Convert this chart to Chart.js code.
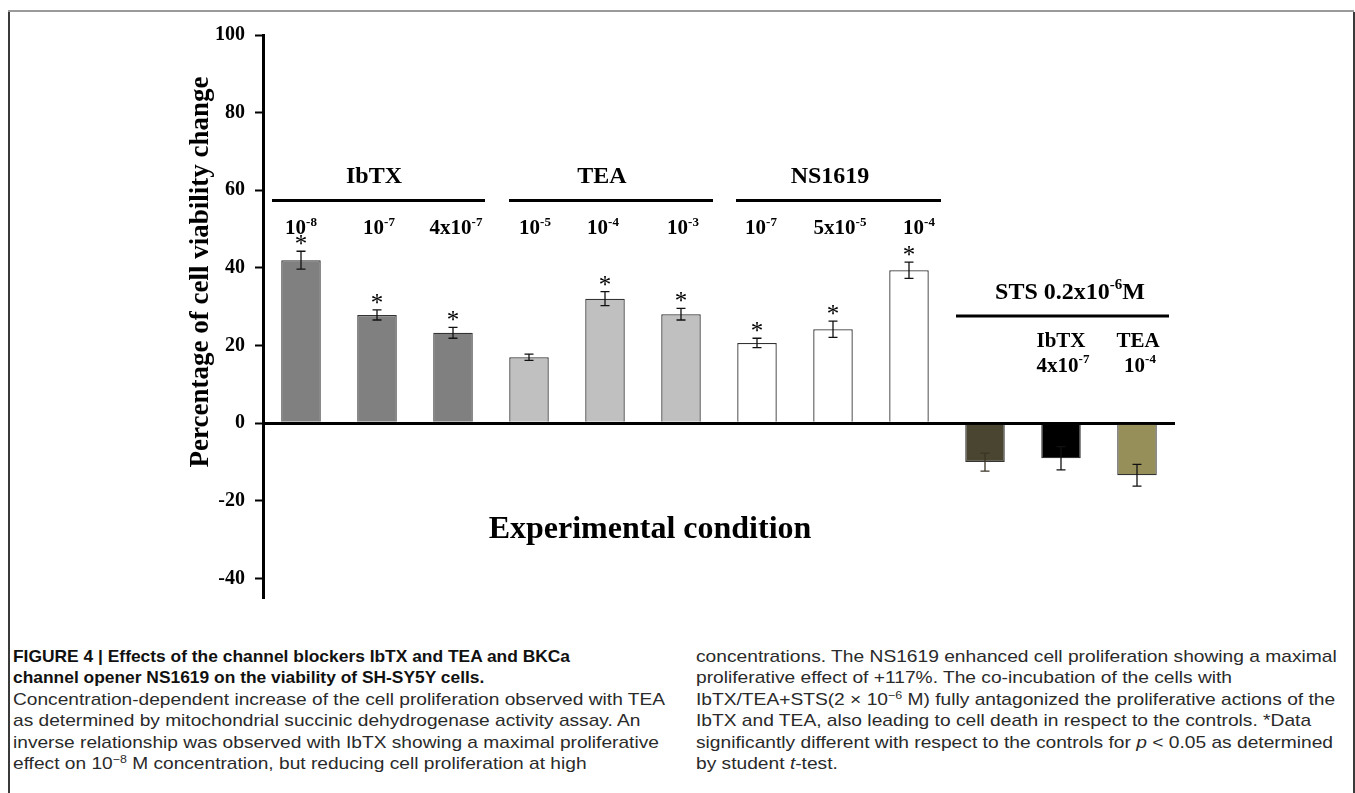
<!DOCTYPE html>
<html>
<head>
<meta charset="utf-8">
<script src="https://cdn.jsdelivr.net/npm/chart.js@4.4.1/dist/chart.umd.min.js"></script>
<style>
  body { margin: 0; background: #fff; width: 1355px; height: 793px; overflow: hidden; position: relative; }
  #rule { position: absolute; left: 8px; top: 10px; width: 1346px; height: 2px; background: #9a9a9a; }
  #frame { position: absolute; left: 8px; top: 12px; width: 1343px; height: 790px;
           border-left: 2px solid #3a3a3a; border-right: 2px solid #3a3a3a; }
  #chartBox { position: absolute; left: 0; top: 0; width: 1355px; height: 620px; }
  .cap { position: absolute; top: 646px; font-family: "Liberation Sans", Arial, sans-serif;
         font-size: 17px; line-height: 21.4px; color: #2a2a2a; white-space: nowrap; }
  .cap div { transform-origin: 0 0; }
  .cap b { color: #111; }
  .cap sup { font-size: 11px; line-height: 0; vertical-align: 6px; }
</style>
</head>
<body>
<div id="rule"></div>
<div id="frame"></div>
<div id="chartBox"><canvas id="chart"></canvas></div>

<div class="cap" style="left:13px">
  <div class="fit-head" id="refHead"><b>FIGURE 4 | Effects of the channel blockers IbTX and TEA and BKCa</b></div>
  <div class="fit-head"><b>channel opener NS1619 on the viability of SH-SY5Y cells.</b></div>
  <div class="fit-left" id="refL">Concentration-dependent increase of the cell proliferation observed with TEA</div>
  <div class="fit-left">as determined by mitochondrial succinic dehydrogenase activity assay. An</div>
  <div class="fit-left">inverse relationship was observed with IbTX showing a maximal proliferative</div>
  <div class="fit-left">effect on 10<sup>−8</sup> M concentration, but reducing cell proliferation at high</div>
</div>
<div class="cap" style="left:696px">
  <div class="fit-right">concentrations. The NS1619 enhanced cell proliferation showing a maximal</div>
  <div class="fit-right">proliferative effect of +117%. The co-incubation of the cells with</div>
  <div class="fit-right">IbTX/TEA+STS(2 × 10<sup>−6</sup> M) fully antagonized the proliferative actions of the</div>
  <div class="fit-right">IbTX and TEA, also leading to cell death in respect to the controls. *Data</div>
  <div class="fit-right" id="refR">significantly different with respect to the controls for <i>p</i> &lt; 0.05 as determined</div>
  <div class="fit-right">by student <i>t</i>-test.</div>
</div>

<script>
const categories = ['IbTX 10-8', 'IbTX 10-7', 'IbTX 4x10-7', 'TEA 10-5', 'TEA 10-4', 'TEA 10-3',
  'NS1619 10-7', 'NS1619 5x10-5', 'NS1619 10-4', 'STS', 'STS + IbTX', 'STS + TEA'];
const viability = [42, 27.9, 23.3, 17, 32.1, 28.1, 20.7, 24.2, 39.4, -10, -9, -13.4];
const errors = [2.3, 1.3, 1.4, 0.8, 1.8, 1.5, 1.2, 2.1, 2.1, 2.3, 3, 2.8];
const significant = [1, 1, 1, 0, 1, 1, 1, 1, 1, 0, 0, 0];
const yTicks = [-40, -20, 0, 20, 40, 60, 80, 100];
const concLabels = ['10{-8}', '10{-7}', '4x10{-7}', '10{-5}', '10{-4}', '10{-3}', '10{-7}', '5x10{-5}', '10{-4}'];
const groups = [
  { name: 'IbTX', first: 0, last: 2 },
  { name: 'TEA', first: 3, last: 5 },
  { name: 'NS1619', first: 6, last: 8 },
];
const stsLabel = 'STS 0.2x10{-6}M';
const stsSubLabels = [['', ''], ['IbTX', '4x10{-7}'], ['TEA', '10{-4}']];

const barColors = ['#808080', '#808080', '#808080', '#c0c0c0', '#c0c0c0', '#c0c0c0',
  '#ffffff', '#ffffff', '#ffffff', '#4a4530', '#000000', '#978f59'];
const SERIF = '"Liberation Serif", "Times New Roman", serif';

// text with {superscript} parts, centred on cx, baseline by
function richText(ctx, str, cx, by, size) {
  const parts = str.split(/(\{[^}]*\})/).filter(s => s.length);
  const big = `bold ${size}px ${SERIF}`;
  const small = `bold ${Math.round(size * 0.64)}px ${SERIF}`;
  let w = 0;
  parts.forEach(p => {
    ctx.font = p[0] === '{' ? small : big;
    w += ctx.measureText(p.replace(/[{}]/g, '')).width;
  });
  let xx = cx - w / 2;
  ctx.textAlign = 'left';
  ctx.textBaseline = 'alphabetic';
  parts.forEach(p => {
    const sup = p[0] === '{';
    const t = p.replace(/[{}]/g, '');
    ctx.font = sup ? small : big;
    ctx.fillText(t, xx, sup ? by - size * 0.4 : by);
    xx += ctx.measureText(t).width;
  });
}

const annotations = {
  id: 'annotations',
  afterDatasetsDraw(chart) {
    const { ctx, scales: { x, y } } = chart;
    const cw = x.getPixelForValue(1) - x.getPixelForValue(0);
    ctx.save();
    ctx.fillStyle = '#000';

    // error bars + significance stars
    ctx.lineWidth = 1.3;
    viability.forEach((v, i) => {
      const px = x.getPixelForValue(i);
      const hi = y.getPixelForValue(v + errors[i]);
      const lo = y.getPixelForValue(v - errors[i]);
      ctx.strokeStyle = i === 9 ? '#3a3526' : '#111';
      ctx.beginPath();
      ctx.moveTo(px, hi); ctx.lineTo(px, lo);
      ctx.moveTo(px - 4.5, hi); ctx.lineTo(px + 4.5, hi);
      ctx.moveTo(px - 4.5, lo); ctx.lineTo(px + 4.5, lo);
      ctx.stroke();
      if (significant[i]) {
        ctx.font = `25px ${SERIF}`;
        ctx.textAlign = 'center';
        ctx.textBaseline = 'alphabetic';
        ctx.fillText('*', px, hi + 1);
      }
    });

    // group headers with rules
    const startPad = [29, 20, 21];
    ctx.lineWidth = 3;
    ctx.strokeStyle = '#000';
    groups.forEach((g, k) => {
      const x1 = x.getPixelForValue(g.first) - startPad[k];
      const x2 = x.getPixelForValue(g.last) + 32;
      const ly = y.getPixelForValue(57.4);
      ctx.beginPath(); ctx.moveTo(x1, ly); ctx.lineTo(x2, ly); ctx.stroke();
      richText(ctx, g.name, x.getPixelForValue((g.first + g.last) / 2) - 3, y.getPixelForValue(62.0), 24);
    });

    // concentrations
    const nudge = [0, 2, 3, 6, -2, 2, 4, 7, 10];
    concLabels.forEach((t, i) => {
      richText(ctx, t, x.getPixelForValue(i) + nudge[i], y.getPixelForValue(48.7), 21);
    });

    // staurosporine block
    const sx1 = x.getPixelForValue(9) - 29;
    const sx2 = x.getPixelForValue(11) + cw / 2 - 6;
    const sly = y.getPixelForValue(27.6);
    ctx.beginPath(); ctx.moveTo(sx1, sly); ctx.lineTo(sx2, sly); ctx.stroke();
    richText(ctx, stsLabel, x.getPixelForValue(10) + 9, y.getPixelForValue(32.1), 24);
    stsSubLabels.forEach((pair, k) => {
      if (!pair[0]) return;
      const cx = x.getPixelForValue(9 + k) + (k === 1 ? 0 : 1);
      richText(ctx, pair[0], cx, y.getPixelForValue(19.6), 21);
      richText(ctx, pair[1], cx + 2, y.getPixelForValue(13.3), 21);
    });

    // axis titles
    ctx.font = `bold 32px ${SERIF}`;
    ctx.textAlign = 'center';
    ctx.textBaseline = 'alphabetic';
    ctx.fillText('Experimental condition', 650, y.getPixelForValue(-29.6));

    ctx.translate(208, 272);
    ctx.rotate(-Math.PI / 2);
    ctx.font = `bold 27px ${SERIF}`;
    ctx.fillText('Percentage of cell viability change', 0, 0);
    ctx.restore();
  }
};

new Chart(document.getElementById('chart'), {
  type: 'bar',
  data: {
    labels: categories,
    datasets: [{
      label: 'Percentage of cell viability change',
      data: viability,
      backgroundColor: barColors,
      borderColor: '#333',
      borderWidth: 1.3,
      barPercentage: 0.52,
      categoryPercentage: 1,
    }],
  },
  options: {
    responsive: true,
    maintainAspectRatio: false,
    animation: false,
    layout: { padding: { left: 0, right: 180, top: 35, bottom: 16 } },
    plugins: { legend: { display: false }, tooltip: { enabled: false } },
    scales: {
      x: { display: false },
      y: {
        min: -45,
        max: 100,
        afterBuildTicks: (s) => { s.ticks = yTicks.map(v => ({ value: v })); },
        afterFit: (s) => { s.width = 263; },
        border: { display: true, color: '#000', width: 3 },
        grid: {
          color: (c) => (c.tick && c.tick.value === 0 ? '#000' : 'rgba(0,0,0,0)'),
          lineWidth: (c) => (c.tick && c.tick.value === 0 ? 3 : 1),
          tickColor: '#000',
          tickWidth: 2,
          tickLength: 8,
        },
        ticks: {
          color: '#000',
          padding: 10,
          font: { family: SERIF, size: 20, weight: 'bold' },
        },
      },
    },
  },
  plugins: [annotations],
});

// squeeze / stretch caption lines to the widths of the printed figure
function textWidth(el) {
  const r = document.createRange();
  r.selectNodeContents(el);
  return r.getBoundingClientRect().width;
}
function fitLines(cls, refId, target) {
  const k = target / textWidth(document.getElementById(refId));
  document.querySelectorAll('.' + cls).forEach(el => { el.style.transform = `scaleX(${k})`; });
}
fitLines('fit-head', 'refHead', 557);
fitLines('fit-left', 'refL', 652);
fitLines('fit-right', 'refR', 637);
</script>
</body>
</html>
